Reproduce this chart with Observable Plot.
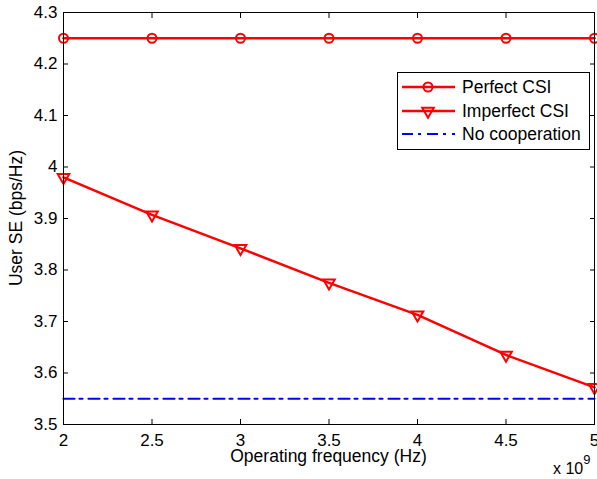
<!DOCTYPE html>
<html>
<head>
<meta charset="utf-8">
<script src="https://cdn.jsdelivr.net/npm/d3@7"></script>
<script src="https://cdn.jsdelivr.net/npm/@observablehq/plot@0.6"></script>
<style>
  html, body { margin: 0; padding: 0; background: #fff; }
  #chart { position: relative; width: 597px; height: 479px; }
  #chart svg g[aria-label$="tick label"], #chart svg g[aria-label$="tick label"] text {
    font-size: 17px !important;
    font-family: 'Liberation Sans', Arial, Helvetica, sans-serif !important;
  }
</style>
</head>
<body>
<div id="chart"></div>
<script>
const freq = [2, 2.5, 3, 3.5, 4, 4.5, 5];           // x 10^9 Hz
const perfectCSI = [4.25, 4.25, 4.25, 4.25, 4.25, 4.25, 4.25];
const imperfectCSI = [3.98, 3.907, 3.842, 3.775, 3.713, 3.635, 3.572];
const noCooperation = [3.55, 3.55, 3.55, 3.55, 3.55, 3.55, 3.55];
const xTicks = [2, 2.5, 3, 3.5, 4, 4.5, 5];
const yTicks = [3.5, 3.6, 3.7, 3.8, 3.9, 4, 4.1, 4.2, 4.3];
const seriesNames = ["Perfect CSI", "Imperfect CSI", "No cooperation"];

const FONT = "'Liberation Sans', Arial, Helvetica, sans-serif";
const FS_TICK = 17;
const FS = 17.5;
const perf = freq.map((f, i) => ({f, v: perfectCSI[i]}));
const imp = freq.map((f, i) => ({f, v: imperfectCSI[i]}));
const noc = freq.map((f, i) => ({f, v: noCooperation[i]}));

const W = 597, H = 479;
const mL = 63, mR = 3, mT = 12, mB = 55;

const chart = Plot.plot({
  width: W, height: H,
  marginLeft: mL, marginRight: mR, marginTop: mT, marginBottom: mB,
  style: {fontFamily: FONT, fontSize: FS_TICK + "px", background: "white", color: "black", overflow: "visible"},
  x: {domain: [2, 5]},
  y: {domain: [3.5, 4.3]},
  marks: [
    Plot.line(noc, {x: "f", y: "v", stroke: "#0000ff", strokeWidth: 2.2, strokeDasharray: "11,5,3,6"}),
    Plot.line(perf, {x: "f", y: "v", stroke: "#ff0000", strokeWidth: 2.5}),
    Plot.dot(perf, {x: "f", y: "v", r: 4.5, stroke: "#ff0000", strokeWidth: 2, fill: "none"}),
    Plot.line(imp, {x: "f", y: "v", stroke: "#ff0000", strokeWidth: 2.5}),
    Plot.dot(imp, {x: "f", y: "v", symbol: "triangle", rotate: 180, r: 4.3, stroke: "#ff0000", strokeWidth: 2, fill: "none"}),
    Plot.axisX({anchor: "bottom", ticks: xTicks, tickSize: -5, tickPadding: 14, tickFormat: d => String(d), label: null, fontSize: FS_TICK}),
    Plot.axisX({anchor: "top", ticks: xTicks, tickSize: -5, tickFormat: () => "", label: null}),
    Plot.axisY({anchor: "left", ticks: yTicks, tickSize: -5, tickPadding: 11, tickFormat: d => String(d), label: null, fontSize: FS_TICK}),
    Plot.axisY({anchor: "right", ticks: yTicks, tickSize: -5, tickFormat: () => "", label: null}),
    Plot.frame({stroke: "black", strokeWidth: 1})
  ]
});
document.getElementById("chart").appendChild(chart);

const svg = d3.select(chart);
function txt(sel, fs = FS) {
  return sel.style("font-family", FONT).style("font-size", fs + "px").attr("fill", "black");
}
const cx = (mL + W - mR) / 2;
txt(svg.append("text").attr("x", cx).attr("y", 462).attr("text-anchor", "middle"))
  .text("Operating frequency (Hz)");
txt(svg.append("text").attr("transform", `translate(22,${(mT + H - mB) / 2}) rotate(-90)`)
  .attr("text-anchor", "middle")).text("User SE (bps/Hz)");
const ex = txt(svg.append("text").attr("x", 553).attr("y", 474).attr("text-anchor", "start"), 16);
ex.append("tspan").text("x 10");
ex.append("tspan").attr("dy", -10).style("font-size", "13px").text("9");

// Legend
const lg = svg.append("g");
lg.append("rect").attr("x", 397.5).attr("y", 72.5).attr("width", 192).attr("height", 77)
  .attr("fill", "white").attr("stroke", "black").attr("stroke-width", 1);
const rows = [87, 111, 134];
const lx1 = 402, lx2 = 455, mx = 428;
lg.append("line").attr("x1", lx1).attr("x2", lx2).attr("y1", rows[0]).attr("y2", rows[0])
  .attr("stroke", "#ff0000").attr("stroke-width", 2.5);
lg.append("circle").attr("cx", mx).attr("cy", rows[0]).attr("r", 4.5)
  .attr("stroke", "#ff0000").attr("stroke-width", 2).attr("fill", "none");
lg.append("line").attr("x1", lx1).attr("x2", lx2).attr("y1", rows[1]).attr("y2", rows[1])
  .attr("stroke", "#ff0000").attr("stroke-width", 2.5);
lg.append("path").attr("transform", `translate(${mx},${rows[1]}) rotate(180)`)
  .attr("d", d3.symbol(d3.symbolTriangle, Math.PI * 4.3 * 4.3)())
  .attr("stroke", "#ff0000").attr("stroke-width", 2).attr("fill", "none");
lg.append("line").attr("x1", lx1).attr("x2", lx2).attr("y1", rows[2]).attr("y2", rows[2])
  .attr("stroke", "#0000ff").attr("stroke-width", 2.2).attr("stroke-dasharray", "11,5,3,6");
seriesNames.forEach((n, i) => {
  txt(lg.append("text").attr("x", 462).attr("y", rows[i]).attr("dy", "0.35em")
    .attr("text-anchor", "start")).text(n);
});
</script>
</body>
</html>
